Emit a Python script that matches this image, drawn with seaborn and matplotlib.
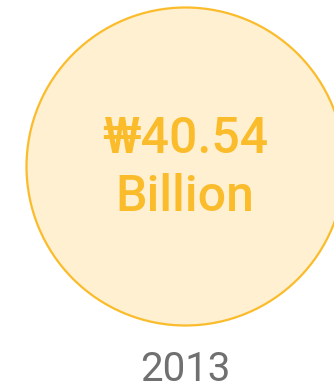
import matplotlib
matplotlib.use("Agg")
import matplotlib.pyplot as plt
import seaborn as sns
import pandas as pd

# Data
years = ["2013"]
values = [40.54]
value_labels = ["₩40.54", "Billion"]

sns.set_theme(style="white")
plt.rcParams['font.family'] = ['Roboto', 'DejaVu Sans']

W, H, DPI = 334, 386, 100
fig = plt.figure(figsize=(W / DPI, H / DPI), dpi=DPI)
ax = fig.add_axes([0, 0, 1, 1])
ax.set_xlim(0, W)
ax.set_ylim(H, 0)
ax.axis("off")

cx, cy, radius_px = 185, 166, 159
df = pd.DataFrame({"x": [cx], "y": [cy], "year": years, "value": values})
diam_pt = 2 * radius_px * 72 / DPI
sns.scatterplot(data=df, x="x", y="y", s=diam_pt ** 2, marker="o",
                color="#FFF0D2", edgecolor="#FBBC2C", linewidth=1.6,
                legend=False, ax=ax)

gold = "#FBBC2C"
ax.text(cx, 153, value_labels[0], ha="center", va="baseline",
        fontsize=36, fontweight="medium", color=gold)
ax.text(cx, 211, value_labels[1], ha="center", va="baseline",
        fontsize=36, fontweight="medium", color=gold)
ax.text(cx, 381, years[0], ha="center", va="baseline",
        fontsize=29, color="#707070")

fig.savefig("out.png", dpi=DPI)
